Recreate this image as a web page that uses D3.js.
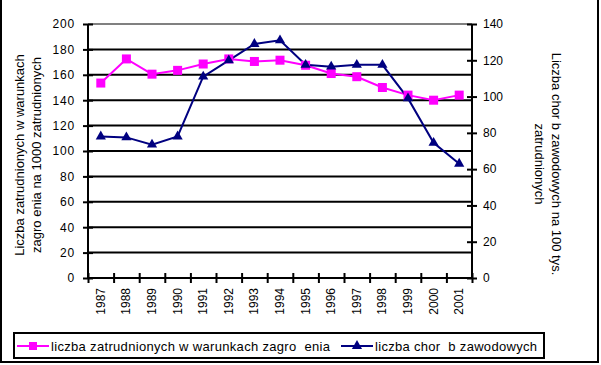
<!DOCTYPE html>
<html><head><meta charset="utf-8">
<script src="https://cdn.jsdelivr.net/npm/d3@7"></script>
<style>
body{margin:0;background:#fff;}
svg{display:block;font-family:"Liberation Sans",Arial,sans-serif;}
text{white-space:pre;}
</style></head>
<body>
<svg id="chart" width="601" height="365"></svg>
<script>
const years = ["1987","1988","1989","1990","1991","1992","1993","1994","1995","1996","1997","1998","1999","2000","2001"];
const employedHazard = [153.5,172.5,160.5,163.5,168.5,172.5,170.5,171.5,167.5,161,158.5,150,144,140,144];
const occupationalDiseases = [78,77.5,73.5,78,111,120,129,131,117.5,116.5,117.5,117.5,99,74.5,63];
const leftTicks = [0,20,40,60,80,100,120,140,160,180,200];
const rightTicks = [0,20,40,60,80,100,120,140];
const seriesNames = ["liczba zatrudnionych w warunkach zagro  enia","liczba chor  b zawodowych"];
const leftTitle = ["Liczba zatrudnionych w warunkach","zagro enia na 1000 zatrudnionych"];
const rightTitle = ["Liczba chor b zawodowych na 100 tys.","zatrudnionych"];

const svg = d3.select("#chart");
const L = 88, R = 472, T = 24, B = 278;
const x = d3.scaleBand().domain(years).range([L, R]).padding(0);
const xb = d3.scaleLinear().domain([0, years.length]).range([L, R]);
const yL = d3.scaleLinear().domain([0,200]).range([B, T]);
const yR = d3.scaleLinear().domain([0,140]).range([B, T]);

// frame
svg.append("rect").attr("x",1).attr("y",-1).attr("width",597).attr("height",363)
  .attr("fill","none").attr("stroke","#000").attr("stroke-width",2);

// gridlines
svg.append("g").selectAll("line").data(leftTicks.filter(d=>d>0)).join("line")
  .attr("x1",L).attr("x2",R).attr("y1",d=>yL(d)).attr("y2",d=>yL(d))
  .attr("stroke",d=>d===200?"#808080":"#000").attr("stroke-width",2);

// left axis
const gl = svg.append("g").attr("transform",`translate(${L},0)`)
  .call(d3.axisLeft(yL).tickValues(leftTicks).tickSize(5).tickPadding(8));
gl.select(".domain").attr("stroke","#000").attr("stroke-width",2).attr("d",`M0,${T}V${B}`);
gl.selectAll(".tick line").attr("x1",-5).attr("x2",5).attr("stroke-width",2);
gl.selectAll(".tick text").attr("font-size",12).attr("font-family","Liberation Sans, Arial").attr("fill","#000").attr("letter-spacing",0.8);

// right axis
const gr = svg.append("g").attr("transform",`translate(${R},0)`)
  .call(d3.axisRight(yR).tickValues(rightTicks).tickSize(5).tickPadding(6));
gr.select(".domain").attr("stroke","#000").attr("stroke-width",2).attr("d",`M0,${T}V${B}`);
gr.selectAll(".tick line").attr("x1",-5).attr("x2",5).attr("stroke-width",2);
gr.selectAll(".tick text").attr("font-size",12).attr("font-family","Liberation Sans, Arial").attr("fill","#000");

// bottom axis line + ticks at boundaries
const gb = svg.append("g").attr("transform",`translate(0,${B})`)
  .call(d3.axisBottom(xb).tickValues(d3.range(years.length+1)).tickFormat("").tickSize(5));
gb.select(".domain").attr("stroke-width",2).attr("d",`M${L},0H${R}`);
gb.selectAll(".tick line").attr("y1",-5).attr("y2",5).attr("stroke-width",2);

// x labels
svg.append("g").selectAll("text").data(years).join("text")
  .attr("transform",d=>`translate(${x(d)+x.bandwidth()/2+4},288) rotate(-90)`)
  .attr("text-anchor","end").attr("font-size",12).text(d=>d);

// lines
const lineL = d3.line().x((d,i)=>x(years[i])+x.bandwidth()/2).y(d=>yL(d));
const lineR = d3.line().x((d,i)=>x(years[i])+x.bandwidth()/2).y(d=>yR(d));
svg.append("path").attr("d",lineL(employedHazard)).attr("fill","none").attr("stroke","#FF00FF").attr("stroke-width",2);
svg.append("path").attr("d",lineR(occupationalDiseases)).attr("fill","none").attr("stroke","#000080").attr("stroke-width",2);

const tri = d3.symbol().type(d3.symbolTriangle).size(45);
svg.append("g").selectAll("rect").data(employedHazard).join("rect")
  .attr("x",(d,i)=>x(years[i])+x.bandwidth()/2-4.5).attr("y",d=>yL(d)-4.5)
  .attr("width",9).attr("height",9).attr("fill","#FF00FF");
svg.append("g").selectAll("path").data(occupationalDiseases).join("path")
  .attr("transform",(d,i)=>`translate(${x(years[i])+x.bandwidth()/2},${yR(d)})`)
  .attr("d",tri).attr("fill","#000080");

// axis titles
svg.append("text").attr("transform","translate(0,155) rotate(-90)").attr("text-anchor","middle")
  .attr("font-size",13).selectAll("tspan").data(leftTitle).join("tspan")
  .attr("x",0).attr("y",(d,i)=>24+i*17).text(d=>d);
svg.append("text").attr("transform","translate(0,164) rotate(90)").attr("text-anchor","middle")
  .attr("font-size",13).selectAll("tspan").data(rightTitle).join("tspan")
  .attr("x",0).attr("y",(d,i)=>-552+i*17).text(d=>d);

// legend
svg.append("rect").attr("x",14).attr("y",333).attr("width",530).attr("height",25)
  .attr("fill","#fff").attr("stroke","#000").attr("stroke-width",2);
const lg = [{x:17, color:"#FF00FF", type:"sq", w:279},{x:341, color:"#000080", type:"tri", w:162}];
lg.forEach((e,i)=>{
  svg.append("line").attr("x1",e.x).attr("x2",e.x+32).attr("y1",346).attr("y2",346)
    .attr("stroke",e.color).attr("stroke-width",2);
  if(e.type==="sq") svg.append("rect").attr("x",e.x+12).attr("y",342).attr("width",8).attr("height",8).attr("fill",e.color);
  else svg.append("path").attr("transform",`translate(${e.x+16},346)`).attr("d",tri).attr("fill",e.color);
  svg.append("text").attr("x",e.x+34).attr("y",350.5).attr("font-size",13)
    .attr("textLength",e.w).attr("lengthAdjust","spacing").text(seriesNames[i]);
});
</script>
</body></html>
